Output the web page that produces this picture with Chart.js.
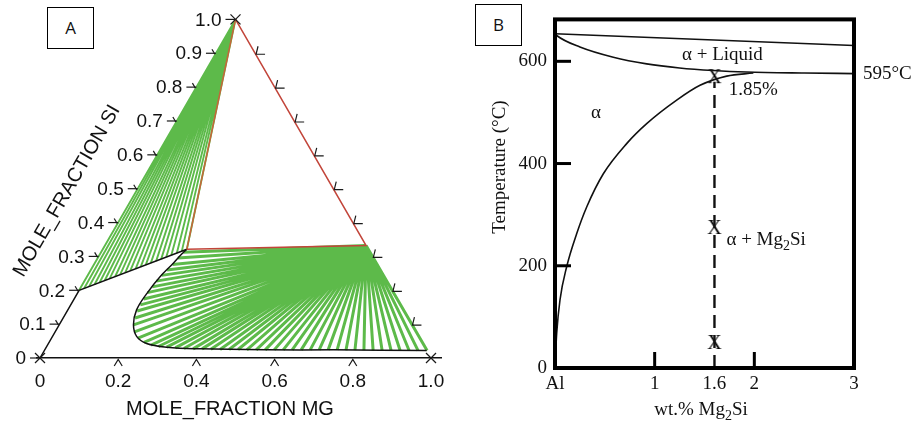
<!DOCTYPE html>
<html>
<head>
<meta charset="utf-8">
<script src="https://cdn.jsdelivr.net/npm/chart.js@4.4.1/dist/chart.umd.min.js"></script>
<style>
  body { margin: 0; background: #fff; width: 914px; height: 426px; overflow: hidden; position: relative; }
  canvas { position: absolute; top: 0; }
  #ca { left: 0; }
  #cb { left: 460px; }
  .tag { position: absolute; border: 1px solid #000; background: #fff; box-sizing: border-box;
         font: 17px "Open Sans", "Noto Sans", sans-serif; text-align: center; color: #111; }
</style>
</head>
<body>
<canvas id="ca" width="460" height="426"></canvas>
<canvas id="cb" width="454" height="426"></canvas>
<div class="tag" style="left:47px;top:7px;width:47px;height:42px;line-height:40px">A</div>
<div class="tag" style="left:475px;top:4px;width:47px;height:42px;line-height:40px">B</div>
<script>
// ---------- panel A : Al-Mg-Si isothermal section, points are [mole fraction Mg, mole fraction Si]
const mgTicks = [0, 0.2, 0.4, 0.6, 0.8, 1.0];
const siTicks = [0, 0.1, 0.2, 0.3, 0.4, 0.5, 0.6, 0.7, 0.8, 0.9, 1.0];

const siCorner = [0, 1];
const mg2si = [0.668, 0.332];
const liqCorner = [0.215, 0.321];
const liqEdge = [0, 0.2];

// liquid boundary below the three phase triangle
const boundaryMg = [0.215, 0.209, 0.201, 0.187, 0.178, 0.176, 0.190, 0.216, 0.251, 0.308, 0.396, 0.568, 0.738, 0.978];
const boundarySi = [0.321, 0.307, 0.280, 0.240, 0.191, 0.142, 0.098, 0.063, 0.043, 0.032, 0.027, 0.024, 0.024, 0.022];

// tie line ends (liquid side), left fan goes to Si, lower fan goes to Mg2Si
const leftTieMg = [0, 0.010, 0.020, 0.031, 0.041, 0.051, 0.061, 0.072, 0.082, 0.092, 0.102,
                   0.113, 0.123, 0.133, 0.143, 0.154, 0.164, 0.174, 0.184, 0.195, 0.205, 0.215];
const leftTieSi = [0.200, 0.206, 0.212, 0.217, 0.223, 0.229, 0.235, 0.240, 0.246, 0.252, 0.258,
                   0.263, 0.269, 0.275, 0.281, 0.286, 0.292, 0.298, 0.304, 0.310, 0.315, 0.321];
const lowerTieMg = [0.210, 0.205, 0.201, 0.195, 0.189, 0.184, 0.182, 0.178, 0.178, 0.178, 0.179, 0.184,
                    0.190, 0.203, 0.221, 0.243, 0.265, 0.286, 0.308, 0.331, 0.354, 0.378, 0.401, 0.424,
                    0.448, 0.471, 0.494, 0.517, 0.541, 0.564, 0.587, 0.610, 0.633, 0.656, 0.679, 0.702,
                    0.725, 0.748, 0.771, 0.794, 0.817, 0.841, 0.864, 0.887, 0.910, 0.933, 0.956, 0.979];
const lowerTieSi = [0.312, 0.295, 0.276, 0.260, 0.244, 0.227, 0.210, 0.193, 0.174, 0.157, 0.139, 0.118,
                    0.098, 0.077, 0.059, 0.046, 0.038, 0.034, 0.032, 0.030, 0.028, 0.027, 0.027, 0.026,
                    0.025, 0.025, 0.025, 0.024, 0.024, 0.024, 0.024, 0.024, 0.024, 0.024, 0.024, 0.024,
                    0.024, 0.024, 0.023, 0.023, 0.023, 0.022, 0.022, 0.022, 0.022, 0.022, 0.022, 0.022];

// ---------- panel B : Al - Mg2Si pseudo binary
const wtTicks = [0, 1, 1.6, 2, 3];
const wtLabels = ['Al', '1', '1.6', '2', '3'];
const tempTicks = [0, 200, 400, 600];

const liquidusWt = [0, 3];
const liquidusT = [654, 631];
const solidusWt = [0, 0.02, 0.25, 0.585, 0.92, 1.25, 1.59, 1.92, 2.5, 3];
const solidusT = [654, 650, 628, 608, 595, 587, 582, 579, 577, 576];
const solvusWt = [0, 0.008, 0.017, 0.05, 0.117, 0.218, 0.318, 0.485, 0.719, 0.92, 1.221, 1.455, 1.723, 1.99];
const solvusT = [0, 35, 68, 133, 198, 263, 315, 380, 439, 478, 524, 553, 571, 577];
const alloyWt = 1.6;
const alloyLineT = [0, 560];
const markT = [569, 274, 49];

const regionText = [
  { parts: [['α + Liquid']], wt: 1.68, t: 613, align: 'center' },
  { parts: [['α']], wt: 0.41, t: 499, align: 'center' },
  { parts: [['1.85%']], wt: 1.99, t: 543, align: 'center' },
  { parts: [['α + Mg'], ['2', 1], ['Si']], wt: 1.72, t: 250, align: 'left' },
  { parts: [['595°C']], wt: 3.09, t: 576, align: 'left' }
];

const SANS = '"Liberation Sans", Arial, Helvetica, sans-serif';
const SERIF = '"Liberation Serif", "Times New Roman", serif';
const GREEN = '#5dba4a';

const R3 = Math.sqrt(3) / 2;
function tern(p) { return { x: p[0] + p[1] / 2, y: p[1] * R3 }; }
const pairs = (xs, ys) => xs.map((v, i) => ({ x: v, y: ys[i] }));

function fan(apex, mgs, sis) {
  const out = [];
  mgs.forEach((m, i) => {
    out.push(tern([m, sis[i]]), tern(apex), { x: null, y: null });
  });
  return out;
}

const ternaryDecor = {
  id: 'ternaryDecor',
  afterDraw(chart) {
    const { ctx, scales } = chart;
    const px = (mg, si) => {
      const p = tern([mg, si]);
      return [scales.x.getPixelForValue(p.x), scales.y.getPixelForValue(p.y)];
    };
    const line = pts => {
      ctx.beginPath();
      ctx.moveTo(pts[0][0], pts[0][1]);
      for (let i = 1; i < pts.length; i++) ctx.lineTo(pts[i][0], pts[i][1]);
      ctx.stroke();
    };
    ctx.save();
    ctx.strokeStyle = '#1a1a1a';
    ctx.fillStyle = '#111';
    ctx.lineWidth = 1.2;

    // corners
    [[0, 0], [1, 0], [0, 1]].forEach(c => {
      const [x, y] = px(c[0], c[1]);
      line([[x - 5, y - 5], [x + 5, y + 5]]);
      line([[x - 5, y + 5], [x + 5, y - 5]]);
    });
    // bottom ticks
    mgTicks.forEach(v => {
      if (v <= 0 || v >= 1) return;
      const [x, y] = px(v, 0);
      line([[x - 4, y + 8], [x, y + 1.5], [x + 4, y + 8]]);
    });
    // left ticks and labels
    ctx.font = '19px ' + SANS;
    ctx.textAlign = 'right';
    ctx.textBaseline = 'middle';
    siTicks.forEach(v => {
      const [x, y] = px(0, v);
      line([[x - 10, y], [x, y]]);
      if (v > 0 && v < 1) line([[x - 4, y - 4], [x - 1, y + 1]]);
      const lab = v === 0 ? '0' : v.toFixed(1);
      ctx.fillText(lab, x - 14, y + 1);
    });
    // right side ticks
    siTicks.forEach(v => {
      if (v <= 0 || v >= 1) return;
      const [x, y] = px(1 - v, v);
      line([[x + 3, y - 7], [x + 1, y + 1], [x + 10, y + 1]]);
    });
    // axis titles
    ctx.font = '20px ' + SANS;
    ctx.textAlign = 'center';
    ctx.fillText('MOLE_FRACTION MG', 230, 409);
    ctx.translate(67, 191);
    ctx.rotate(-Math.PI / 3);
    ctx.fillText('MOLE_FRACTION SI', 0, 0);
    ctx.restore();
  }
};

new Chart(document.getElementById('ca'), {
  type: 'scatter',
  data: {
    datasets: [
      { data: [siCorner, liqCorner, mg2si, siCorner].map(tern), showLine: true, pointRadius: 0,
        borderColor: '#c2453a', borderWidth: 1.5,
        segment: { borderColor: c => c.p0DataIndex === 0 ? '#c8643a' : '#c2453a' } },
      { data: [[0, 0], liqEdge, liqCorner].map(tern), showLine: true, pointRadius: 0,
        borderColor: '#111', borderWidth: 1.5 },
      { data: boundaryMg.map((m, i) => tern([m, boundarySi[i]])), showLine: true, pointRadius: 0,
        borderColor: '#111', borderWidth: 1.5, tension: 0.4 },
      { data: fan(mg2si, lowerTieMg, lowerTieSi), showLine: true, pointRadius: 0,
        borderColor: GREEN, borderWidth: 3, spanGaps: false },
      { data: fan(siCorner, leftTieMg, leftTieSi), showLine: true, pointRadius: 0,
        borderColor: GREEN, borderWidth: 1.9, spanGaps: false }
    ]
  },
  options: {
    responsive: false,
    animation: false,
    events: [],
    layout: { padding: { left: 37, right: 19, top: 18, bottom: 0 } },
    plugins: { legend: { display: false }, tooltip: { enabled: false } },
    scales: {
      x: {
        type: 'linear', min: -0.0077, max: 1.0256,
        grid: { display: false, drawTicks: false },
        border: { color: '#111', width: 1.5 },
        afterBuildTicks: s => { s.ticks = mgTicks.map(v => ({ value: v })); },
        afterFit: s => { s.height = 68; },
        ticks: {
          autoSkip: false, maxRotation: 0, padding: 12, color: '#111',
          font: { family: SANS, size: 19 },
          callback: v => v === 0 ? '0' : v.toFixed(1)
        }
      },
      y: { type: 'linear', display: false, min: 0, max: 0.8696 }
    }
  },
  plugins: [ternaryDecor]
});

// ---------- panel B
function serifX() {
  const c = document.createElement('canvas');
  c.width = 18; c.height = 20;
  const g = c.getContext('2d');
  g.fillStyle = '#000';
  g.font = '20px ' + SERIF;
  g.textAlign = 'center';
  g.textBaseline = 'middle';
  g.fillText('X', 9, 11);
  return c;
}

function richText(ctx, parts, x, y, align, size) {
  const base = size + 'px ' + SERIF;
  const small = Math.round(size * 0.72) + 'px ' + SERIF;
  let w = 0;
  parts.forEach(p => { ctx.font = p[1] ? small : base; w += ctx.measureText(p[0]).width; });
  let cx = align === 'center' ? x - w / 2 : (align === 'right' ? x - w : x);
  ctx.textAlign = 'left';
  ctx.textBaseline = 'middle';
  parts.forEach(p => {
    ctx.font = p[1] ? small : base;
    ctx.fillText(p[0], cx, p[1] ? y + size * 0.32 : y);
    cx += ctx.measureText(p[0]).width;
  });
}

const phaseDecor = {
  id: 'phaseDecor',
  afterDatasetsDraw(chart) {
    const { ctx, chartArea: a, scales: { x, y } } = chart;
    ctx.save();
    ctx.strokeStyle = '#000';
    ctx.lineWidth = 3;
    tempTicks.forEach(t => {
      if (t === 0) return;
      const py = y.getPixelForValue(t);
      ctx.beginPath(); ctx.moveTo(a.left, py); ctx.lineTo(a.left + 16, py); ctx.stroke();
    });
    wtTicks.forEach(v => {
      if (v === 0 || v === 3 || v === alloyWt) return;
      const pxv = x.getPixelForValue(v);
      ctx.beginPath(); ctx.moveTo(pxv, a.bottom); ctx.lineTo(pxv, a.bottom - 16); ctx.stroke();
    });
    ctx.lineWidth = 4;
    ctx.strokeRect(a.left, a.top, a.right - a.left, a.bottom - a.top);
    ctx.restore();
  },
  afterDraw(chart) {
    const { ctx, scales: { x, y } } = chart;
    ctx.save();
    ctx.fillStyle = '#111';
    regionText.forEach(r => {
      richText(ctx, r.parts, x.getPixelForValue(r.wt), y.getPixelForValue(r.t), r.align, 19);
    });
    richText(ctx, [['wt.% Mg'], ['2', 1], ['Si']], 241, 410, 'center', 19);
    ctx.translate(40, 167);
    ctx.rotate(-Math.PI / 2);
    richText(ctx, [['Temperature (°C)']], 0, 0, 'center', 19);
    ctx.restore();
  }
};

new Chart(document.getElementById('cb'), {
  type: 'scatter',
  data: {
    datasets: [
      { data: pairs(liquidusWt, liquidusT), showLine: true, pointRadius: 0, borderColor: '#111', borderWidth: 1.6 },
      { data: pairs(solidusWt, solidusT), showLine: true, pointRadius: 0, borderColor: '#111', borderWidth: 1.6,
        cubicInterpolationMode: 'monotone' },
      { data: pairs(solvusWt, solvusT), showLine: true, pointRadius: 0, borderColor: '#111', borderWidth: 1.6,
        cubicInterpolationMode: 'monotone' },
      { data: alloyLineT.map(t => ({ x: alloyWt, y: t })), showLine: true, pointRadius: 0,
        borderColor: '#111', borderWidth: 2.4, borderDash: [13, 7] },
      { data: markT.map(t => ({ x: alloyWt, y: t })), showLine: false, pointStyle: serifX(), pointRadius: 9 }
    ]
  },
  options: {
    responsive: false,
    animation: false,
    events: [],
    layout: { padding: { left: 0, right: 60, top: 19, bottom: 0 } },
    plugins: { legend: { display: false }, tooltip: { enabled: false } },
    scales: {
      x: {
        type: 'linear', min: 0, max: 3,
        grid: { display: false, drawTicks: false },
        border: { display: false },
        afterBuildTicks: s => { s.ticks = wtTicks.map(v => ({ value: v })); },
        afterFit: s => { s.height = 58; },
        ticks: {
          autoSkip: false, maxRotation: 0, padding: 5, color: '#111',
          font: { family: SERIF, size: 19 },
          callback: (v, i) => wtLabels[i]
        }
      },
      y: {
        type: 'linear', min: 0, max: 682,
        grid: { display: false, drawTicks: false },
        border: { display: false },
        afterBuildTicks: s => { s.ticks = tempTicks.map(v => ({ value: v })); },
        afterFit: s => { s.width = 95; },
        ticks: { padding: 8, color: '#111', font: { family: SERIF, size: 19 } }
      }
    }
  },
  plugins: [phaseDecor]
});
</script>
</body>
</html>
